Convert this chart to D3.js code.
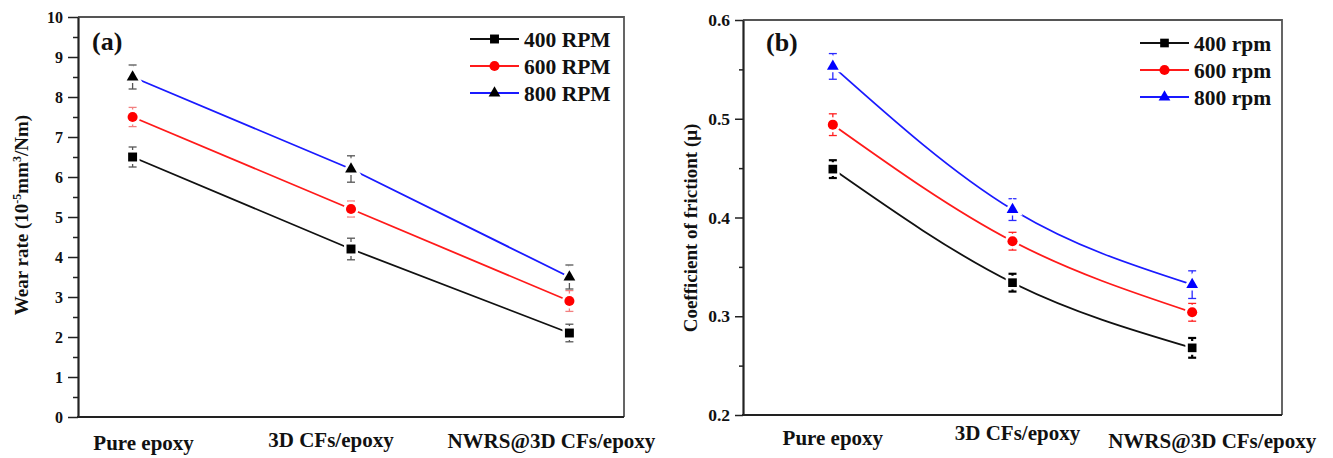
<!DOCTYPE html>
<html>
<head>
<meta charset="utf-8">
<script src="https://cdn.jsdelivr.net/npm/d3@7"></script>
<style>
  body { margin: 0; background: #fff; }
  text { font-family: "Liberation Serif", "Times New Roman", serif; font-weight: bold; fill: #111; }
</style>
</head>
<body>
<div id="chart"></div>
<script>
// categories on the x axis (both panels)
var categories = ["Pure epoxy", "3D CFs/epoxy", "NWRS@3D CFs/epoxy"];

// (a) wear rate, 10^-5 mm3/Nm
var wear400 = [6.5, 4.2, 2.1];
var wear400Err = [0.25, 0.27, 0.22];
var wear600 = [7.5, 5.2, 2.9];
var wear600Err = [0.24, 0.2, 0.26];
var wear800 = [8.5, 6.2, 3.5];
var wear800Err = [0.3, 0.33, 0.3];
var wearTicks = [0, 1, 2, 3, 4, 5, 6, 7, 8, 9, 10];

// (b) coefficient of friction
var cof400 = [0.449, 0.334, 0.268];
var cof400Err = [0.009, 0.009, 0.01];
var cof600 = [0.494, 0.376, 0.304];
var cof600Err = [0.011, 0.009, 0.009];
var cof800 = [0.553, 0.408, 0.332];
var cof800Err = [0.013, 0.011, 0.014];
var cofTicks = [0.2, 0.3, 0.4, 0.5, 0.6];

var legendA = ["400 RPM", "600 RPM", "800 RPM"];
var legendB = ["400 rpm", "600 rpm", "800 rpm"];

var svg = d3.select("#chart")
    .append("svg")
    .attr("width", 1333)
    .attr("height", 458);

function drawPanel(p) {
    var x = d3.scaleLinear().domain(p.xDomain).range([p.left, p.right]);
    var y = d3.scaleLinear().domain(p.yDomain).range([p.bottom, p.top]);
    var g = svg.append("g");

    // top and right frame
    g.append("path")
        .attr("d", "M" + p.left + "," + p.top + "H" + p.right + "V" + p.bottom)
        .attr("fill", "none")
        .attr("stroke", "#555")
        .attr("stroke-width", 1.8);

    // minor ticks
    g.append("g")
        .attr("transform", "translate(" + p.left + ",0)")
        .call(d3.axisLeft(y).tickValues(p.minor).tickSize(p.tick / 2).tickFormat(""))
        .call(function(a) { a.select(".domain").remove(); })
        .selectAll("line").attr("stroke", "#222").attr("stroke-width", 1.5);

    // y axis
    var ya = g.append("g")
        .attr("transform", "translate(" + p.left + ",0)")
        .call(d3.axisLeft(y).tickValues(p.ticks).tickSize(p.tick).tickSizeOuter(0)
            .tickPadding(5).tickFormat(p.fmt));
    ya.select(".domain").attr("stroke", "#222").attr("stroke-width", 2.2);
    ya.selectAll("line").attr("stroke", "#222").attr("stroke-width", 1.5);
    ya.selectAll("text").style("font-size", p.tickFont + "px").attr("fill", "#111");

    // bottom axis line
    g.append("line")
        .attr("x1", p.left - 1).attr("x2", p.right)
        .attr("y1", p.bottom).attr("y2", p.bottom)
        .attr("stroke", "#222").attr("stroke-width", 2.2);

    // category labels
    g.selectAll(".cat")
        .data(categories)
        .enter().append("text")
        .attr("x", function(d, i) { return x(i + 1) + p.catDx[i]; })
        .attr("y", function(d, i) { return p.catY[i]; })
        .attr("text-anchor", "middle")
        .style("font-size", "21px")
        .text(function(d) { return d; });

    // y title
    var t = g.append("text")
        .attr("transform", "translate(" + p.titleX + "," + p.titleY + ") rotate(-90)")
        .attr("text-anchor", "middle")
        .style("font-size", "19px");
    p.title(t);

    // panel letter
    g.append("text")
        .attr("x", p.letterX).attr("y", p.letterY)
        .style("font-size", "26px")
        .text(p.letter);

    var line = d3.line()
        .x(function(d, i) { return x(i + 1); })
        .y(function(d) { return y(d); })
        .curve(p.curve);

    p.series.forEach(function(s) {
        g.append("path")
            .datum(s.values)
            .attr("fill", "none")
            .attr("stroke", s.line)
            .attr("stroke-width", 1.8)
            .attr("d", line);
    });

    // error bars
    p.series.forEach(function(s) {
        var eb = g.append("g")
            .attr("stroke", s.err)
            .attr("stroke-width", s.errWidth);
        s.values.forEach(function(v, i) {
            var cx = x(i + 1), e = s.errs[i];
            eb.append("line").attr("x1", cx).attr("x2", cx).attr("y1", y(v - e)).attr("y2", y(v + e));
            eb.append("line").attr("x1", cx - 4).attr("x2", cx + 4).attr("y1", y(v + e)).attr("y2", y(v + e));
            eb.append("line").attr("x1", cx - 4).attr("x2", cx + 4).attr("y1", y(v - e)).attr("y2", y(v - e));
        });
    });

    // markers with a white halo so lines stop short of them
    p.series.forEach(function(s) {
        var sym = d3.symbol().type(s.shape).size(s.size);
        g.selectAll(null)
            .data(s.values)
            .enter().append("path")
            .attr("transform", function(d, i) { return "translate(" + x(i + 1) + "," + y(d) + ")"; })
            .attr("d", sym)
            .attr("fill", "#fff")
            .attr("stroke", "#fff")
            .attr("stroke-width", 5);
        g.selectAll(null)
            .data(s.values)
            .enter().append("path")
            .attr("transform", function(d, i) { return "translate(" + x(i + 1) + "," + y(d) + ")"; })
            .attr("d", sym)
            .attr("fill", s.fill);
    });

    // legend
    p.series.forEach(function(s, i) {
        var ly = p.legY + i * 27;
        g.append("line")
            .attr("x1", p.legX).attr("x2", p.legX + 49)
            .attr("y1", ly).attr("y2", ly)
            .attr("stroke", s.line).attr("stroke-width", 1.8);
        g.append("path")
            .attr("transform", "translate(" + (p.legX + 24.5) + "," + ly + ")")
            .attr("d", d3.symbol().type(s.shape).size(s.size)())
            .attr("fill", s.fill);
        g.append("text")
            .attr("x", p.legX + 54).attr("y", ly)
            .attr("dy", "0.35em")
            .style("font-size", "21.5px")
            .text(p.legend[i]);
    });
}

// panel (a)
drawPanel({
    left: 78, right: 624, top: 17, bottom: 417,
    xDomain: [0.75, 3.25], yDomain: [0, 10],
    ticks: wearTicks, minor: d3.range(0.5, 10, 1),
    fmt: d3.format("d"), tick: 10, tickFont: 16,
    catDx: [11, -20, -18], catY: [450, 447, 448],
    titleX: 28, titleY: 215,
    title: function(t) {
        t.append("tspan").text("Wear rate (10");
        t.append("tspan").attr("baseline-shift", "super").style("font-size", "12px").text("-5");
        t.append("tspan").text("mm");
        t.append("tspan").attr("baseline-shift", "super").style("font-size", "12px").text("3");
        t.append("tspan").text("/Nm)");
    },
    letter: "(a)", letterX: 92, letterY: 50,
    curve: d3.curveLinear,
    legX: 470, legY: 39, legend: legendA,
    series: [
        {values: wear400, errs: wear400Err, line: "#111", fill: "#000", err: "#555", errWidth: 1.3, shape: d3.symbolSquare, size: 80},
        {values: wear600, errs: wear600Err, line: "#ff1a1a", fill: "#ff0000", err: "#f28080", errWidth: 1.3, shape: d3.symbolCircle, size: 80},
        {values: wear800, errs: wear800Err, line: "#1a1aff", fill: "#000", err: "#555", errWidth: 1.3, shape: d3.symbolTriangle, size: 60}
    ]
});

// panel (b)
drawPanel({
    left: 743, right: 1282, top: 20, bottom: 415,
    xDomain: [0.5, 3.5], yDomain: [0.2, 0.6],
    ticks: cofTicks, minor: [0.25, 0.35, 0.45, 0.55],
    fmt: d3.format(".1f"), tick: 8, tickFont: 17.5,
    catDx: [0, 5, 20], catY: [445, 440, 448],
    titleX: 697, titleY: 228,
    title: function(t) {
        t.text("Coefficient of frictiont (\u03bc)");
    },
    letter: "(b)", letterX: 766, letterY: 51,
    curve: d3.curveNatural,
    legX: 1140, legY: 43, legend: legendB,
    series: [
        {values: cof400, errs: cof400Err, line: "#111", fill: "#000", err: "#000", errWidth: 2.2, shape: d3.symbolSquare, size: 75},
        {values: cof600, errs: cof600Err, line: "#ff1a1a", fill: "#ff0000", err: "#ff2020", errWidth: 1.3, shape: d3.symbolCircle, size: 80},
        {values: cof800, errs: cof800Err, line: "#1a1aff", fill: "#0000ff", err: "#2a2aff", errWidth: 1.3, shape: d3.symbolTriangle, size: 60}
    ]
});
</script>
</body>
</html>
